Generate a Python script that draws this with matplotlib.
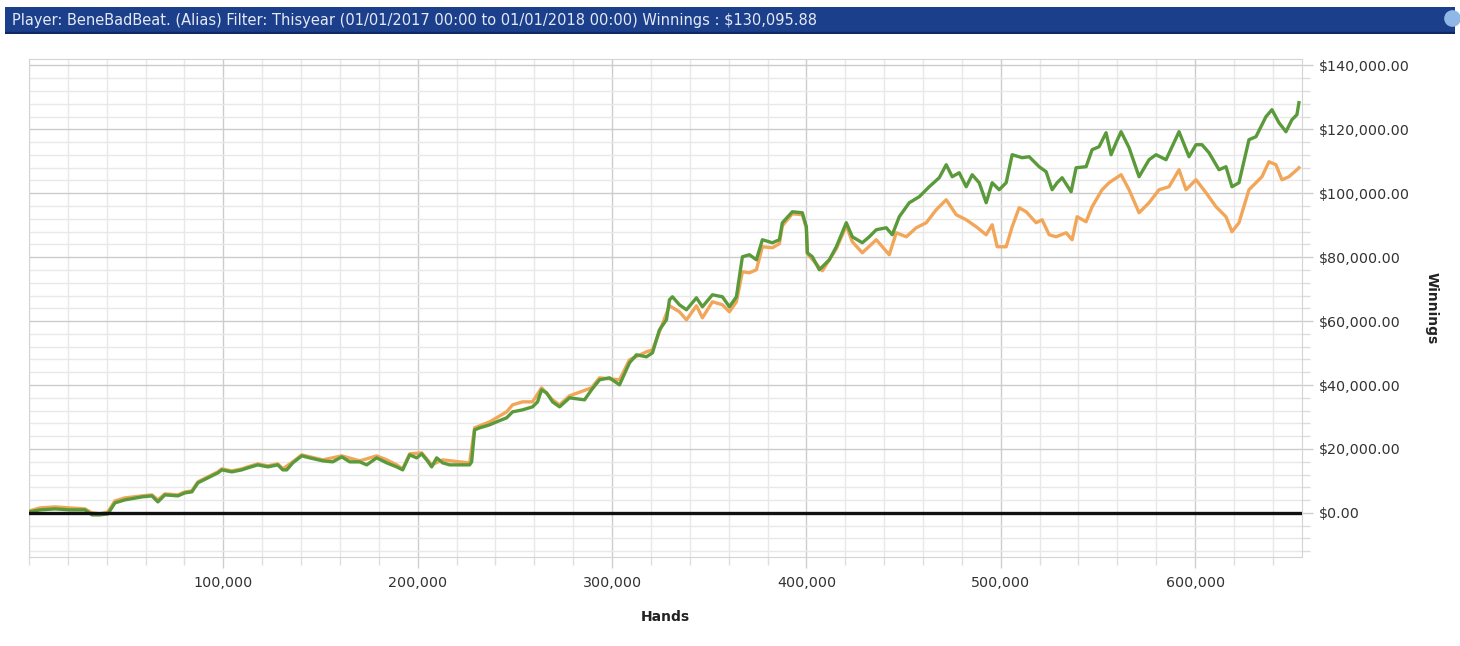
"""Cumulative winnings over hands for one player (tracker screenshot)."""

import matplotlib.pyplot as plt
from matplotlib.lines import Line2D
from matplotlib.patches import Rectangle
from matplotlib.ticker import FuncFormatter, MultipleLocator

HEADER = ("Player: BeneBadBeat. (Alias) Filter: Thisyear (01/01/2017 00:00 to "
          "01/01/2018 00:00) Winnings : $130,095.88")

# net winnings (green)
green_hands = [
    0, 5655, 13367, 21078, 28790, 32388, 36500, 40600, 44213, 49354,
    58093, 63234, 66319, 69918, 76601, 80200, 83798, 86883, 92024, 97165,
    99221, 104362, 109503, 112588, 117729, 122870, 128010, 130581, 132637, 135722,
    140349, 144462, 151145, 156286, 160913, 165026, 170167, 173766, 178907, 184048,
    189189, 192274, 195873, 199471, 202042, 204612, 207183, 209753, 212838, 216437,
    221578, 226718, 227747, 229289, 231860, 237000, 240599, 245740, 248825, 253966,
    259106, 261677, 263733, 266304, 269388, 272987, 278127, 285838, 289437, 293550,
    298691, 303832, 308973, 312571, 317712, 320797, 324396, 327994, 329537, 331079,
    334678, 338277, 343418, 346502, 351643, 356784, 360383, 363981, 367066, 370665,
    374263, 377348, 382489, 386088, 387630, 392771, 397912, 399968, 400482, 403053,
    406652, 411792, 415391, 420532, 423616, 428757, 432356, 435954, 441095, 444180,
    447778, 452919, 458060, 463201, 468342, 471941, 475025, 478624, 482222, 485307,
    488906, 492504, 495589, 499188, 502786, 505871, 511012, 514611, 519752, 523350,
    526435, 529005, 531576, 536203, 538773, 543914, 546999, 550597, 554196, 556767,
    559337, 561908, 566021, 571162, 576302, 579901, 585042, 591725, 596866, 600465,
    603549, 607148, 612289, 615887, 618972, 622571, 627712, 631310, 636451, 639536,
    643135, 646733, 649818, 652389, 653417,
]
green_won = [
    300, 939, 1252, 939, 939, -626, -626, -313, 3130, 4069,
    5008, 5321, 3443, 5634, 5321, 6260, 6573, 9390, 10955, 12520,
    13459, 12833, 13459, 14085, 15024, 14398, 15024, 13459, 13459, 15650,
    17841, 17215, 16276, 15963, 17528, 15963, 15963, 15024, 17215, 15650,
    14398, 13459, 18154, 17215, 18467, 16589, 14398, 17215, 15650, 15024,
    15024, 15024, 15963, 25979, 26605, 27544, 28483, 29735, 31613, 32239,
    33178, 34743, 38499, 37560, 34743, 33178, 35995, 35369, 38499, 41629,
    42255, 40064, 46950, 49454, 48828, 50080, 57279, 60409, 66669, 67608,
    65104, 63539, 67295, 64478, 68234, 67608, 64478, 67608, 80128, 80754,
    79189, 85449, 84510, 85449, 90770, 94213, 93900, 89518, 81380, 80128,
    76059, 79189, 83258, 90770, 86388, 84510, 86388, 88579, 89205, 87014,
    92648, 97030, 98908, 102038, 104855, 108924, 105168, 106420, 102038, 105794,
    103290, 97030, 103290, 101099, 103290, 112054, 111115, 111428, 108298, 106733,
    101099, 103290, 104855, 100473, 107985, 108298, 113619, 114558, 118940, 112054,
    115810, 119253, 114245, 105168, 110489, 112054, 110489, 119253, 111428, 115184,
    115184, 112680, 107359, 108298, 102038, 103290, 116749, 117688, 123948, 126139,
    122070, 119253, 123009, 124574, 128330,
]

# all-in adjusted winnings (orange)
orange_hands = [
    0, 5655, 13367, 21078, 28790, 32388, 36500, 40600, 44213, 49354,
    58093, 63234, 66319, 69918, 76601, 80200, 83798, 86883, 92024, 97165,
    99221, 104362, 109503, 112588, 117729, 122870, 128010, 130581, 135722, 140349,
    151145, 160913, 170167, 178907, 184048, 189189, 192274, 195873, 202042, 207183,
    212838, 221578, 226718, 229289, 237000, 245740, 248825, 253966, 259106, 263733,
    269388, 272987, 278127, 289437, 293550, 303832, 308973, 317712, 320797, 324396,
    329537, 334678, 338277, 343418, 346502, 351643, 356784, 360383, 363981, 367066,
    370665, 374263, 377348, 382489, 386088, 387630, 392771, 397912, 399968, 400482,
    408193, 415391, 420532, 423616, 428757, 435954, 442636, 446235, 451376, 456517,
    461658, 466799, 471941, 477081, 482222, 487363, 492504, 495589, 498160, 502786,
    505871, 509469, 513068, 518209, 521293, 524892, 528491, 533632, 536717, 539287,
    543914, 546999, 552140, 555738, 561908, 566021, 571162, 576302, 581443, 586584,
    591725, 595324, 600465, 605606, 610746, 615887, 618972, 622571, 627712, 634394,
    637993, 641591, 644676, 648275, 652389, 653417,
]
orange_won = [
    600, 1565, 1878, 1565, 1252, 0, -313, 300, 3756, 4695,
    5321, 5634, 4069, 5947, 5634, 6573, 6886, 9703, 11268, 12833,
    13772, 13146, 13772, 14398, 15337, 14711, 15337, 13772, 15963, 18154,
    16589, 17841, 16276, 17841, 16589, 15024, 13772, 18467, 18780, 15024,
    16589, 15963, 15650, 26605, 28483, 31613, 33804, 34743, 34743, 39125,
    35369, 33804, 36621, 39125, 42255, 41629, 47889, 50393, 51019, 56653,
    64791, 62913, 60409, 64791, 61035, 66043, 65104, 62913, 66043, 75433,
    75120, 76059, 83258, 82945, 84197, 89831, 93587, 93274, 89205, 81067,
    75746, 82632, 89831, 84823, 81380, 85449, 80754, 87640, 86388, 89205,
    90770, 94839, 97969, 93274, 91709, 89518, 87014, 90144, 83258, 83258,
    89518, 95465, 94213, 90770, 91709, 87014, 86388, 87640, 85449, 92648,
    91083, 95778, 101099, 103290, 105794, 101099, 93900, 97030, 101099, 102038,
    107359, 101099, 104229, 100160, 95778, 92648, 87953, 90770, 101099, 105168,
    109863, 108924, 104229, 105168, 107359, 107985,
]

x_labels = [100000, 200000, 300000, 400000, 500000, 600000]

W, H = 1460, 646
fig = plt.figure(figsize=(W / 100, H / 100), dpi=100, facecolor="white")

# header bar
hdr = fig.add_axes([5 / W, 1 - 34 / H, 1450 / W, 27 / H])
hdr.set_xlim(0, 1)
hdr.set_ylim(0, 1)
hdr.axis("off")
hdr.add_patch(Rectangle((0, 0), 1, 1, color="#1c3f8c", transform=hdr.transAxes))
hdr.add_patch(Rectangle((0, 0), 1, 0.08, color="#0f2a63", transform=hdr.transAxes))
hdr.text(7 / 1450, 0.5, HEADER, color="#e4eaf4", fontsize=10.5, va="center", ha="left")
fig.add_artist(Line2D([1452 / W], [1 - 18 / H], transform=fig.transFigure,
                      marker="o", markersize=11, color="#8fb8e6", zorder=5))

ax = fig.add_axes([29 / W, 1 - 557 / H, 1273 / W, 498 / H])
ax.plot(orange_hands, orange_won, color="#f2a65a", lw=2.4, zorder=3,
        solid_joinstyle="round")
ax.plot(green_hands, green_won, color="#5a9a3b", lw=2.4, zorder=4,
        solid_joinstyle="round")
ax.axhline(0, color="#111111", lw=2.4, zorder=5)

ax.set_xlim(0, 655000)
ax.set_ylim(-13800, 142000)

ax.xaxis.set_major_locator(MultipleLocator(100000))
ax.xaxis.set_minor_locator(MultipleLocator(20000))
ax.yaxis.set_major_locator(MultipleLocator(20000))
ax.yaxis.set_minor_locator(MultipleLocator(4000))
ax.set_xticks(x_labels)
ax.xaxis.set_major_formatter(FuncFormatter(lambda v, p: f"{v:,.0f}"))
ax.yaxis.set_major_formatter(FuncFormatter(lambda v, p: f"${v:,.2f}"))

ax.yaxis.tick_right()
ax.tick_params(axis="both", which="major", labelsize=10.3, colors="#cfcfcf",
               labelcolor="#333333", length=8, width=1)
ax.tick_params(axis="both", which="minor", colors="#dddddd", length=6, width=1)
ax.tick_params(axis="y", which="major", pad=4)
ax.tick_params(axis="x", which="major", pad=6)

ax.grid(True, which="major", color="#cccccc", lw=1)
ax.grid(True, which="minor", color="#e8e8e8", lw=1)
ax.set_axisbelow(True)
for s in ax.spines.values():
    s.set_color("#d4d4d4")

ax.set_xlabel("Hands", fontsize=10, fontweight="bold", color="#222222", labelpad=14)
ax.yaxis.set_label_position("right")
ax.set_ylabel("Winnings", fontsize=10, fontweight="bold", color="#222222",
              rotation=270, ha="center", va="center")
ax.yaxis.set_label_coords((1432 - 29) / 1273, 0.5)

fig.savefig("out.png", dpi=100, facecolor="white")
